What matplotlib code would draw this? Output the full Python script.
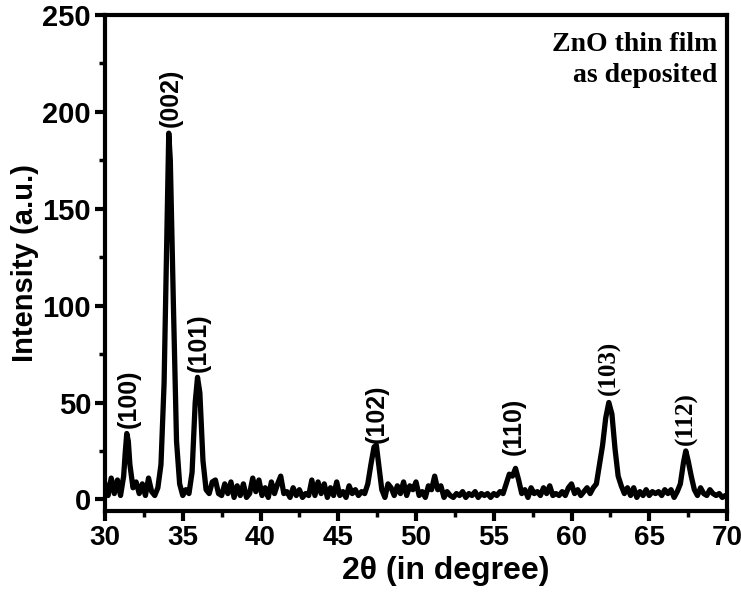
import matplotlib
matplotlib.use("Agg")
import matplotlib.pyplot as plt
from matplotlib.ticker import MultipleLocator

two_theta = [30.0, 30.2, 30.4, 30.6, 30.8, 31.0, 31.2, 31.3, 31.4, 31.5, 31.6, 31.8,
             32.0, 32.2, 32.4, 32.6, 32.8, 33.0, 33.2, 33.4, 33.6, 33.8, 34.0, 34.1,
             34.2, 34.4, 34.6, 34.8, 35.0, 35.2, 35.4, 35.6, 35.8, 35.95, 36.1, 36.3,
             36.5, 36.7, 36.9, 37.1, 37.3, 37.5, 37.7, 37.9, 38.1, 38.3, 38.5, 38.7,
             38.9, 39.1, 39.3, 39.5, 39.7, 39.9, 40.1, 40.3, 40.5, 40.7, 40.9, 41.1,
             41.3, 41.5, 41.7, 41.9, 42.1, 42.3, 42.5, 42.7, 42.9, 43.1, 43.3, 43.5,
             43.7, 43.9, 44.1, 44.3, 44.5, 44.7, 44.9, 45.1, 45.3, 45.5, 45.7, 45.9,
             46.1, 46.3, 46.5, 46.7, 46.9, 47.1, 47.3, 47.45, 47.6, 47.8, 48.0, 48.2,
             48.4, 48.6, 48.8, 49.0, 49.2, 49.4, 49.6, 49.8, 50.0, 50.2, 50.4, 50.6,
             50.8, 51.0, 51.2, 51.4, 51.6, 51.8, 52.0, 52.2, 52.4, 52.6, 52.8, 53.0,
             53.2, 53.4, 53.6, 53.8, 54.0, 54.2, 54.4, 54.6, 54.8, 55.0, 55.2, 55.4,
             55.6, 55.8, 56.0, 56.2, 56.4, 56.6, 56.8, 57.0, 57.2, 57.4, 57.6, 57.8,
             58.0, 58.2, 58.4, 58.6, 58.8, 59.0, 59.2, 59.4, 59.6, 59.8, 60.0, 60.2,
             60.4, 60.6, 60.8, 61.0, 61.2, 61.4, 61.6, 61.8, 62.0, 62.2, 62.4, 62.6,
             62.8, 63.0, 63.2, 63.4, 63.6, 63.8, 64.0, 64.2, 64.4, 64.6, 64.8, 65.0,
             65.2, 65.4, 65.6, 65.8, 66.0, 66.2, 66.4, 66.6, 66.8, 67.0, 67.2, 67.35,
             67.5, 67.7, 67.9, 68.1, 68.3, 68.5, 68.7, 68.9, 69.1, 69.3, 69.5, 69.7,
             69.9, 70.0]
intensity = [8, 2, 11, 3, 10, 2, 12, 24, 34, 30, 18, 6,
             9, 3, 8, 2, 11, 4, 2, 6, 18, 60, 145, 189,
             175, 100, 30, 8, 2, 5, 3, 14, 50, 63, 55, 20,
             5, 3, 9, 10, 3, 2, 8, 3, 9, 1, 7, 2,
             8, 1, 3, 11, 4, 10, 2, 6, 1, 9, 3, 8,
             12, 3, 4, 1, 6, 2, 5, 1, 3, 2, 10, 2,
             9, 3, 8, 1, 6, 2, 9, 2, 4, 1, 7, 3,
             5, 2, 4, 3, 8, 18, 27, 28, 18, 5, 1, 8,
             6, 2, 7, 3, 9, 2, 7, 5, 9, 2, 4, 1,
             7, 5, 12, 5, 7, 1, 4, 2, 1, 3, 2, 4,
             1, 3, 2, 4, 1, 3, 2, 3, 1, 3, 2, 4,
             3, 8, 13, 12, 16, 10, 3, 5, 1, 6, 3, 4,
             2, 6, 3, 7, 2, 3, 2, 4, 2, 6, 8, 3,
             5, 2, 4, 6, 3, 6, 8, 18, 28, 42, 50, 44,
             26, 12, 7, 3, 6, 2, 6, 1, 4, 2, 5, 2,
             4, 3, 4, 2, 5, 3, 5, 1, 4, 8, 19, 25,
             20, 12, 5, 2, 6, 3, 2, 5, 3, 2, 3, 1,
             2, 2]

peak_labels = ["(100)", "(002)", "(101)", "(102)", "(110)", "(103)", "(112)"]
peak_pos = [31.5, 34.2, 36.0, 47.45, 56.3, 62.45, 67.4]
peak_label_y = [37, 192, 66, 29, 23, 54, 28]
peak_serif = [False, False, False, False, False, True, True]

plt.rcParams['font.family'] = ['Liberation Sans', 'DejaVu Sans']

fig = plt.figure(figsize=(7.41, 6.0), dpi=100)
ax = fig.add_axes([105 / 741, 1 - 511 / 600, 622 / 741, 496 / 600])

ax.plot(two_theta, intensity, color='black', lw=3.8, solid_joinstyle='round')

for lab, x, y, serif in zip(peak_labels, peak_pos, peak_label_y, peak_serif):
    fam = ['Liberation Serif'] if serif else ['Liberation Sans']
    ax.text(x, y, lab, rotation=90, ha='center', va='bottom', fontsize=18,
            fontweight='bold', family=fam)

ax.text(0.985, 0.965, "ZnO thin film\nas deposited", transform=ax.transAxes,
        ha='right', va='top', fontsize=20, fontweight='bold',
        family=['Liberation Serif'], linespacing=1.3)

ax.set_xlim(30, 70)
ax.set_ylim(-6, 250)
ax.xaxis.set_major_locator(MultipleLocator(5))
ax.xaxis.set_minor_locator(MultipleLocator(2.5))
ax.yaxis.set_major_locator(MultipleLocator(50))
ax.yaxis.set_minor_locator(MultipleLocator(25))
ax.tick_params(which='major', direction='out', length=7, width=3, pad=3)
ax.tick_params(axis='x', which='major', labelsize=20)
ax.tick_params(axis='y', which='major', labelsize=21)
ax.tick_params(which='minor', direction='out', length=4, width=2.5)
for lbl in ax.get_xticklabels() + ax.get_yticklabels():
    lbl.set_fontweight('bold')
for s in ax.spines.values():
    s.set_linewidth(3)

ax.set_xlabel("2θ (in degree)", fontsize=23, fontweight='bold', labelpad=4, x=0.548)
ax.set_ylabel("Intensity (a.u.)", fontsize=21, fontweight='bold')
ax.yaxis.set_label_coords(-0.106, 0.5)

fig.savefig("out.png", dpi=100)
